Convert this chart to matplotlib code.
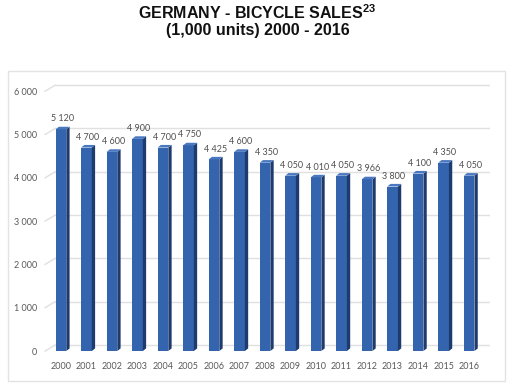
import numpy as np
import matplotlib.pyplot as plt
from matplotlib.patches import Polygon, Rectangle

# Data (1,000 units)
years = ['2000', '2001', '2002', '2003', '2004', '2005', '2006', '2007', '2008',
         '2009', '2010', '2011', '2012', '2013', '2014', '2015', '2016']
sales = [5120, 4700, 4600, 4900, 4700, 4750, 4425, 4600, 4350,
         4050, 4010, 4050, 3966, 3800, 4100, 4350, 4050]
labels = ['5 120', '4 700', '4 600', '4 900', '4 700', '4 750', '4 425', '4 600', '4 350',
          '4 050', '4 010', '4 050', '3 966', '3 800', '4 100', '4 350', '4 050']
yticks = [0, 1000, 2000, 3000, 4000, 5000, 6000]
ytick_labels = ['0', '1 000', '2 000', '3 000', '4 000', '5 000', '6 000']

plt.rcParams['font.family'] = ['Liberation Sans', 'DejaVu Sans']
plt.rcParams['mathtext.fontset'] = 'custom'
plt.rcParams['mathtext.bf'] = 'Liberation Sans:bold'
plt.rcParams['mathtext.rm'] = 'Liberation Sans'

fig = plt.figure(figsize=(5.15, 3.83), dpi=100)
fig.patch.set_facecolor('white')

# light panel frame
fig.patches.append(Rectangle((8 / 515, 1 - 381 / 383), 497 / 515, 310 / 383,
                             transform=fig.transFigure, fill=False,
                             edgecolor='#e3e3e3', lw=1.0))

fig.text(0.5, 1 - 13 / 383, r'GERMANY - BICYCLE SALES$^{\mathbf{23}}$', ha='center', va='center',
         fontsize=11.5, fontweight='bold', color='#111111')
fig.text(0.5, 1 - 31 / 383, '(1,000 units) 2000 - 2016', ha='center', va='center',
         fontsize=11.5, fontweight='bold', color='#111111')

ax = fig.add_axes([40 / 515, 28 / 383, 450 / 515, 275 / 383])
x = np.arange(len(years))
ax.set_xlim(-0.82, 16.82)
ax.set_ylim(-92, 6260)

# back-wall gridlines with a small perspective offset
dx_wall, dy_wall = 0.39, 140
for v in yticks:
    ax.plot([-0.62, -0.62 + dx_wall], [v, v + dy_wall], color='#e0e0e0', lw=1.0, zorder=1)
    ax.plot([-0.62 + dx_wall, 16.82], [v + dy_wall, v + dy_wall], color='#e0e0e0', lw=1.0, zorder=1)

# 3D-ish bars
w = 0.42
sx, sy = 0.13, 60
front = '#3464ad'
side = '#1d3b6e'
top = '#4a78c0'
for xi, v, lab in zip(x, sales, labels):
    x0, x1 = xi - w / 2, xi + w / 2
    ax.add_patch(Rectangle((x0, 0), w, v, facecolor=front, edgecolor='none', zorder=3))
    ax.add_patch(Polygon([[x1, 0], [x1 + sx, sy], [x1 + sx, v + sy], [x1, v]],
                         facecolor=side, edgecolor='none', zorder=3))
    ax.add_patch(Polygon([[x0, v], [x1, v], [x1 + sx, v + sy], [x0 + sx, v + sy]],
                         facecolor=top, edgecolor='none', zorder=3))
    ax.text(xi + 0.05, v + 240, lab, ha='center', va='center', fontsize=6.5,
            family=['Lato', 'DejaVu Sans'], color='#505050', zorder=4)

ax.set_xticks(x)
ax.set_xticklabels(years, fontsize=6.5, color='#595959', family=['Lato', 'DejaVu Sans'])
ax.set_yticks(yticks)
ax.set_yticklabels(ytick_labels, fontsize=6.5, color='#595959', family=['Lato', 'DejaVu Sans'])
ax.tick_params(length=0, pad=2)
ax.tick_params(axis='x', pad=5)
for s in ax.spines.values():
    s.set_visible(False)
ax.set_facecolor('none')

fig.savefig('out.png', dpi=100)
